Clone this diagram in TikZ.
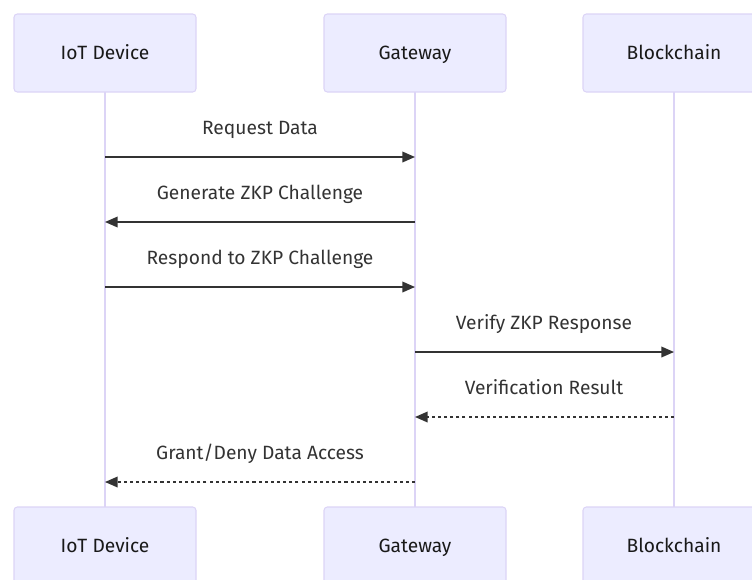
\documentclass[tikz,border=0pt]{standalone}
\usepackage{fontspec}
\setmainfont{Fira Sans}
\usetikzlibrary{arrows.meta}

\definecolor{actorfill}{HTML}{ECECFF}
\definecolor{actorline}{HTML}{DCD4F6}
\definecolor{msgline}{HTML}{333333}

\tikzset{
  actor/.style={draw=actorline, fill=actorfill, line width=0.8pt, rounded corners=2.5pt,
    minimum width=136.5pt, minimum height=58.5pt, font=\fontsize{14.4}{17}\selectfont,
    text=black!90, text height=0.95em, text depth=0.05em},
  lifeline/.style={draw=actorline, line width=1.3pt},
  msg/.style={draw=msgline, line width=1.1pt, -{Triangle[length=9.5pt,width=8pt]}},
  reply/.style={msg, dash pattern=on 2.3pt off 2.3pt},
  msglabel/.style={font=\fontsize{14.4}{17}\selectfont, text=msgline,
    text height=0.95em, text depth=0.05em}
}

\begin{document}
\begin{tikzpicture}[x=0.75pt, y=-0.75pt]
                \useasboundingbox (0,0) rectangle (752,579);

                % lifelines first so boxes sit on top
                \draw[lifeline] (105,92) -- (105,507);
                \draw[lifeline] (415,92) -- (415,507);
                \draw[lifeline] (674,92) -- (674,507);

                % participants, top row
                \node[actor] (devT) at (105,53) {IoT Device};
                \node[actor] (gwT)  at (415,53) {Gateway};
                \node[actor] (bcT)  at (674,53) {Blockchain};

                % participants, bottom row
                \node[actor] (devB) at (105,546) {IoT Device};
                \node[actor] (gwB)  at (415,546) {Gateway};
                \node[actor] (bcB)  at (674,546) {Blockchain};

                % message end points on the lifelines
                \coordinate (d1) at (105,157); \coordinate (g1) at (415,157);
                \coordinate (d2) at (105,222); \coordinate (g2) at (415,222);
                \coordinate (d3) at (105,287); \coordinate (g3) at (415,287);
                \coordinate (g4) at (415,352); \coordinate (b4) at (674,352);
                \coordinate (g5) at (415,417); \coordinate (b5) at (674,417);
                \coordinate (d6) at (105,482); \coordinate (g6) at (415,482);

                \draw[msg]   (d1) -- (g1);
                \draw[msg]   (g2) -- (d2);
                \draw[msg]   (d3) -- (g3);
                \draw[msg]   (g4) -- (b4);
                \draw[reply] (b5) -- (g5);
                \draw[reply] (g6) -- (d6);

                \node[msglabel] (l1) at (260,128) {Request Data};
                \node[msglabel] (l2) at (260,193) {Generate ZKP Challenge};
                \node[msglabel] (l3) at (260,258) {Respond to ZKP Challenge};
                \node[msglabel] (l4) at (544,323) {Verify ZKP Response};
                \node[msglabel] (l5) at (544,388) {Verification Result};
                \node[msglabel] (l6) at (260,453) {Grant/Deny Data Access};
\end{tikzpicture}
\end{document}
